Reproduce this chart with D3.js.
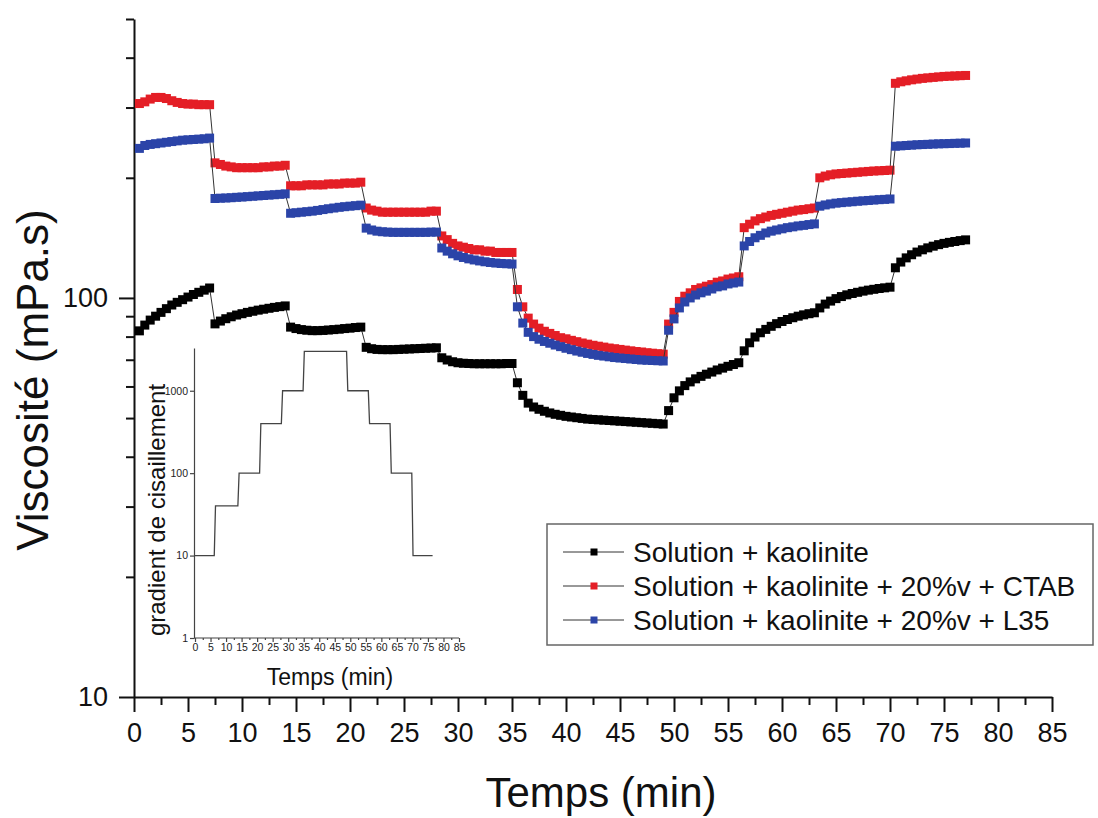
<!DOCTYPE html>
<html>
<head>
<meta charset="utf-8">
<script src="https://cdn.jsdelivr.net/npm/d3@7"></script>
<style>
  html, body { margin: 0; padding: 0; background: #fff; }
  svg { display: block; font-family: Arial, "Liberation Sans", sans-serif; }
</style>
</head>
<body>
<svg id="chart" width="1098" height="818"></svg>
<script>
// ---------------- DATA ----------------
// Sampling interval of the rheometer (min) and number of samples
const sampleStep = 0.5;
const sampleCount = 154;                   // 0.5 … 77 min

// Viscosity (mPa.s), one value per sample, by shear step
const kaolinite = [
  82.7, 85.5, 88, 90, 92, 94, 96, 97.5, 99, 100.5, 102, 103.3, 104.6, 105.9,
  86.1, 87.5, 88.7, 89.7, 90.6, 91.3, 92, 92.6, 93.2, 93.7, 94.2, 94.7, 95.1, 95.5,
  84.5, 83.8, 83.3, 83, 82.8, 82.8, 82.9, 83.1, 83.3, 83.5, 83.8, 84, 84.3, 84.5,
  75.2, 74.6, 74.3, 74.2, 74.2, 74.2, 74.3, 74.4, 74.5, 74.6, 74.7, 74.8, 74.9, 75,
  70.8, 69.9, 69.2, 68.8, 68.6, 68.5, 68.4, 68.4, 68.4, 68.4, 68.4, 68.4, 68.5, 68.5,
  61.3, 57, 54.5, 53.3, 52.6, 52, 51.5, 51.1, 50.8, 50.5, 50.3, 50.1, 49.9, 49.7,
  49.6, 49.5, 49.4, 49.3, 49.2, 49.1, 49.0, 48.9, 48.8, 48.7, 48.6, 48.5, 48.4, 48.3,
  52.2, 56.2, 58.5, 60.3, 61.6, 62.7, 63.6, 64.4, 65.2, 66, 66.7, 67.4, 68.1, 68.8,
  73.7, 77.2, 79.8, 81.8, 83.4, 84.9, 86.2, 87.3, 88.3, 89.2, 90, 90.7, 91.3, 91.8,
  94.4, 96.5, 98.2, 99.6, 100.8, 101.8, 102.6, 103.3, 104, 104.6, 105.1, 105.6, 106, 106.4,
  119, 123, 126, 128.3, 130.3, 132, 133.5, 134.8, 136, 137, 137.8, 138.5, 139.2, 139.8
];
const kaoliniteCTAB = [
  307, 310, 315, 318, 318, 316, 312, 309, 307, 306, 306, 305, 305, 305,
  218, 216, 214, 213, 212, 212, 212, 212, 212, 213, 213, 214, 214, 215,
  191, 191, 191, 192, 192, 192, 192, 193, 193, 193, 194, 194, 194, 195,
  168, 166, 165, 164, 164, 164, 164, 164, 164, 164, 164, 164, 165, 165,
  143, 140, 137, 135, 134, 133, 132, 132, 131, 131, 130, 130, 130, 130,
  105, 95, 89, 86, 84, 82.5, 81.5, 80.5, 79.5, 79, 78.3, 77.7, 77.1, 76.6,
  76.1, 75.7, 75.3, 74.9, 74.6, 74.3, 74.0, 73.7, 73.4, 73.2, 72.9, 72.7, 72.5, 72.3,
  86, 92, 98, 101, 103, 105, 106, 107, 108, 109.5, 110.3, 111.5, 112.2, 113,
  150, 153, 156, 158, 159.5, 161, 162, 163, 164, 165, 166, 166.5, 167.3, 168,
  200, 202, 203.5, 204.5, 205, 205.5, 206, 206.5, 207, 207.5, 208, 208.3, 208.6, 209,
  345, 348, 350, 352, 353.5, 355, 356, 357, 358, 359, 359.5, 360, 360.5, 361
];
const kaoliniteL35 = [
  237, 241, 242.5, 243.5, 244.5, 245.5, 246.5, 247.5, 248.5, 249, 249.5, 250, 250.5, 251.5,
  177.5, 177.8, 178, 178.3, 178.7, 179, 179.4, 179.8, 180.2, 180.6, 181, 181.4, 181.8, 182.3,
  163, 163.5, 164, 164.5, 165, 165.7, 166.5, 167.3, 168, 168.7, 169.3, 169.8, 170.3, 170.8,
  149.6, 148, 147, 146.5, 146.2, 146, 146, 146, 146, 146, 146, 146, 146.2, 146.2,
  133.4, 131, 129, 127.5, 126.3, 125.3, 124.5, 123.8, 123.2, 122.7, 122.3, 122, 121.8, 121.6,
  95, 86.5, 82, 80, 78.8, 77.8, 77, 76.2, 75.5, 74.8, 74.2, 73.6, 73.1, 72.6,
  72.2, 71.8, 71.5, 71.2, 70.9, 70.7, 70.5, 70.3, 70.1, 69.9, 69.8, 69.7, 69.6, 69.5,
  83, 88.6, 94.4, 97.7, 100, 101.7, 103, 104, 105.3, 106.6, 107.2, 108.4, 109, 109.6,
  135, 138.5, 141.5, 143.5, 145.5, 147, 148, 149, 150, 150.7, 151.5, 152, 152.7, 153.3,
  169.8, 171, 172, 172.8, 173.3, 173.8, 174.2, 174.7, 175.1, 175.5, 175.9, 176.3, 176.6, 177,
  240, 240.5, 241, 241.5, 242, 242.3, 242.6, 243, 243.3, 243.5, 243.7, 244, 244.2, 244.5
];
const seriesNames = [
  "Solution + kaolinite",
  "Solution + kaolinite + 20%v + CTAB",
  "Solution + kaolinite + 20%v + L35"
];
const seriesColors = ["#000000", "#e41e26", "#2b44a8"];

// Inset: shear-rate programme
const shearTime = [0, 6.2, 6.6, 13.8, 14.2, 20.8, 21.2, 27.8, 28.2, 34.8, 35.2, 48.8, 49.2, 55.8, 56.2, 62.8, 63.2, 69.8, 70.2, 76.5];
const shearRate = [10, 10, 40, 40, 100, 100, 400, 400, 1000, 1000, 3000, 3000, 1000, 1000, 400, 400, 100, 100, 10, 10];

// Tick labels
const xTicks = [0, 5, 10, 15, 20, 25, 30, 35, 40, 45, 50, 55, 60, 65, 70, 75, 80, 85];
const yMajorTicks = [10, 100];
const insetYTicks = [1, 10, 100, 1000];

// ---------------- DRAW ----------------
const svg = d3.select("#chart");
const FONT = 'Arial, "Liberation Sans", sans-serif';
const times = d3.range(1, sampleCount + 1).map(i => i * sampleStep);

const x = d3.scaleLinear().domain([0, 85]).range([134, 1052]);
const y = d3.scaleLog().domain([10, 500]).range([697, 19]);

const xMinor = d3.range(2.5, 85, 5);
const yMinor = [20, 30, 40, 50, 60, 70, 80, 90, 200, 300, 400, 500];

const gx = svg.append("g").attr("transform", "translate(0,697)");
gx.call(d3.axisBottom(x).tickValues(xMinor).tickSize(8).tickFormat(""))
  .call(g => g.select(".domain").remove());
gx.append("g").call(d3.axisBottom(x).tickValues(xTicks).tickSize(15).tickSizeOuter(0).tickPadding(11).tickFormat(d3.format("d")));
gx.selectAll("line,path").attr("stroke", "#111").attr("stroke-width", 2);
gx.selectAll("text").attr("font-size", 27).attr("font-family", FONT).attr("fill", "#111");

const gy = svg.append("g").attr("transform", "translate(134,0)");
gy.call(d3.axisLeft(y).tickValues(yMinor).tickSize(8).tickFormat(""))
  .call(g => g.select(".domain").remove());
gy.append("g").call(d3.axisLeft(y).tickValues(yMajorTicks).tickSize(15).tickSizeOuter(0).tickPadding(11).tickFormat(d3.format("d")));
gy.selectAll("line,path").attr("stroke", "#111").attr("stroke-width", 2);
gy.selectAll("text").attr("font-size", 27).attr("font-family", FONT).attr("fill", "#111");

svg.append("text").attr("x", 601).attr("y", 807).attr("text-anchor", "middle")
  .attr("font-size", 42).attr("font-family", FONT).attr("fill", "#111").text("Temps (min)");
svg.append("text").attr("transform", "translate(48,380) rotate(-90)").attr("text-anchor", "middle")
  .attr("font-size", 44).attr("font-family", FONT).attr("fill", "#111").text("Viscosité (mPa.s)");

const allSeries = [kaolinite, kaoliniteCTAB, kaoliniteL35];
const line = d3.line().x(d => x(d[0])).y(d => y(d[1]));
const M = 9;
allSeries.forEach((vals, si) => {
  const pts = vals.map((v, i) => [times[i], v]);
  const g = svg.append("g");
  g.append("path").datum(pts).attr("d", line).attr("fill", "none")
    .attr("stroke", "#333").attr("stroke-width", 1);
  g.selectAll("rect").data(pts).join("rect")
    .attr("x", d => x(d[0]) - M / 2).attr("y", d => y(d[1]) - M / 2)
    .attr("width", M).attr("height", M).attr("fill", seriesColors[si]);
});

const leg = svg.append("g");
leg.append("rect").attr("x", 547).attr("y", 524).attr("width", 546).attr("height", 121)
  .attr("fill", "#fff").attr("stroke", "#666").attr("stroke-width", 1.5);
const rowY = [552, 586, 620];
seriesNames.forEach((name, i) => {
  leg.append("line").attr("x1", 563).attr("x2", 624).attr("y1", rowY[i]).attr("y2", rowY[i])
    .attr("stroke", "#333").attr("stroke-width", 1);
  leg.append("rect").attr("x", 594 - 3.5).attr("y", rowY[i] - 3.5).attr("width", 7).attr("height", 7)
    .attr("fill", seriesColors[i]);
  leg.append("text").attr("x", 633).attr("y", rowY[i]).attr("dy", "0.36em")
    .attr("font-size", 28).attr("font-family", FONT).attr("fill", "#111").text(name);
});

const ix = d3.scaleLinear().domain([0, 85]).range([195, 459]);
const iy = d3.scaleLog().domain([1, 3300]).range([638, 348]);
const inset = svg.append("g");
const igx = inset.append("g").attr("transform", "translate(0,638)");
igx.call(d3.axisBottom(ix).tickValues(d3.range(2.5, 85, 5)).tickSize(2).tickFormat(""))
  .call(g => g.select(".domain").remove());
igx.append("g").call(d3.axisBottom(ix).tickValues(xTicks).tickSize(4).tickSizeOuter(0).tickPadding(2).tickFormat(d3.format("d")));
igx.select("g .domain").attr("d", "M194,0H459");
const igy = inset.append("g").attr("transform", "translate(194,0)");
igy.call(d3.axisLeft(iy).tickValues(insetYTicks).tickSize(4).tickSizeOuter(0).tickPadding(2).tickFormat(d3.format("d")));
inset.selectAll("line,path").attr("stroke", "#444").attr("stroke-width", 1.2);
inset.selectAll("text").attr("font-size", 10.5).attr("font-family", FONT).attr("fill", "#222");

inset.append("path").datum(shearTime.map((t, i) => [t, shearRate[i]]))
  .attr("d", d3.line().x(d => ix(d[0])).y(d => iy(d[1])))
  .attr("fill", "none").attr("stroke", "#444").attr("stroke-width", 1.3);

inset.append("text").attr("x", 330).attr("y", 685).attr("text-anchor", "middle")
  .attr("font-size", 23).attr("font-family", FONT).attr("fill", "#111").text("Temps (min)");
inset.append("text").attr("transform", "translate(165,510) rotate(-90)").attr("text-anchor", "middle")
  .attr("font-size", 24).attr("font-family", FONT).attr("fill", "#111").text("gradient de cisaillement");
</script>
</body>
</html>
